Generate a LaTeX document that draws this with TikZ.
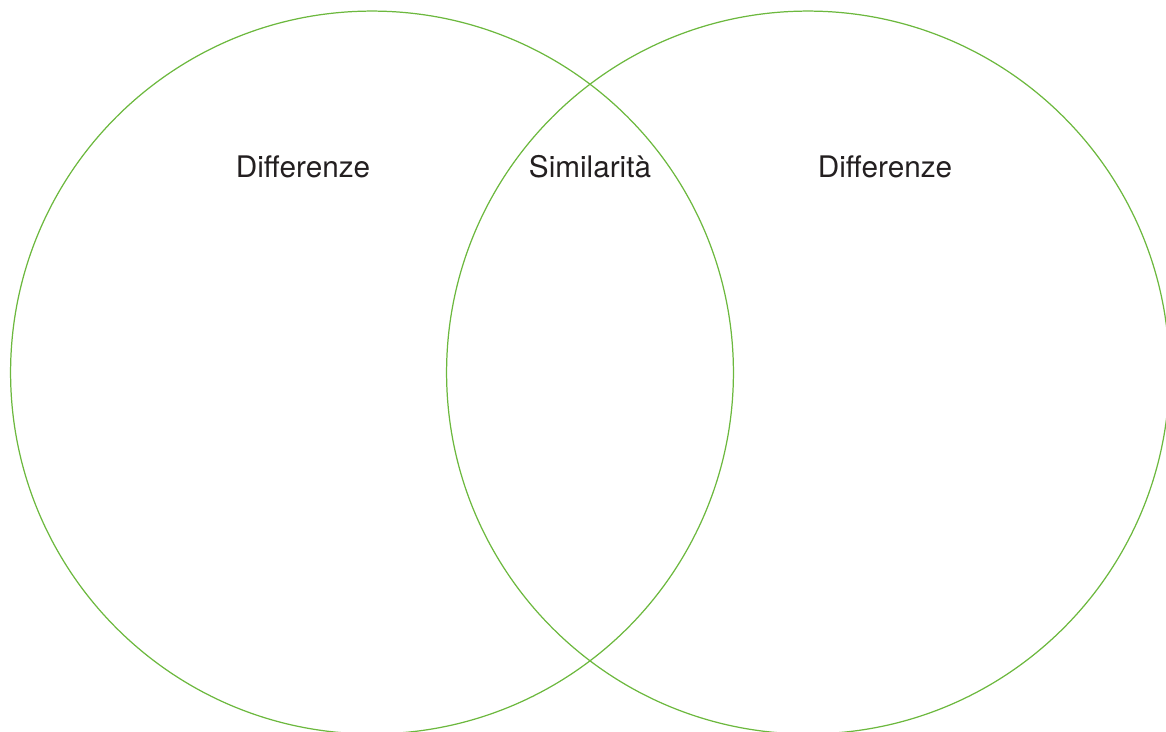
\documentclass[tikz,border=0pt]{standalone}
\usepackage{fontspec}
\setmainfont{TeX Gyre Heros}
\usepackage{tikz}
\usepackage{xcolor}
\definecolor{venngreen}{RGB}{108,184,62}
\definecolor{labelgray}{RGB}{35,31,32}

\begin{document}
\begin{tikzpicture}[x=0.02cm, y=-0.02cm,
    set/.style={circle, draw=venngreen, line width=0.7pt, minimum size=14.46cm, inner sep=0pt},
    setlabel/.style={anchor=base, text=labelgray, font=\fontsize{16.9}{20}\selectfont}]
  \useasboundingbox (0,0) rectangle (1166,731);
  \clip (0,0) rectangle (1166,731);
  \node[set] (setA) at (372,372.5) {};
  \node[set] (setB) at (808,372.5) {};
  \node[setlabel] (diffA) at (303,177.5) {Differenze};
  \node[setlabel] (simAB) at (590,177.5) {Similarità};
  \node[setlabel] (diffB) at (885,177.5) {Differenze};
\end{tikzpicture}
\end{document}
